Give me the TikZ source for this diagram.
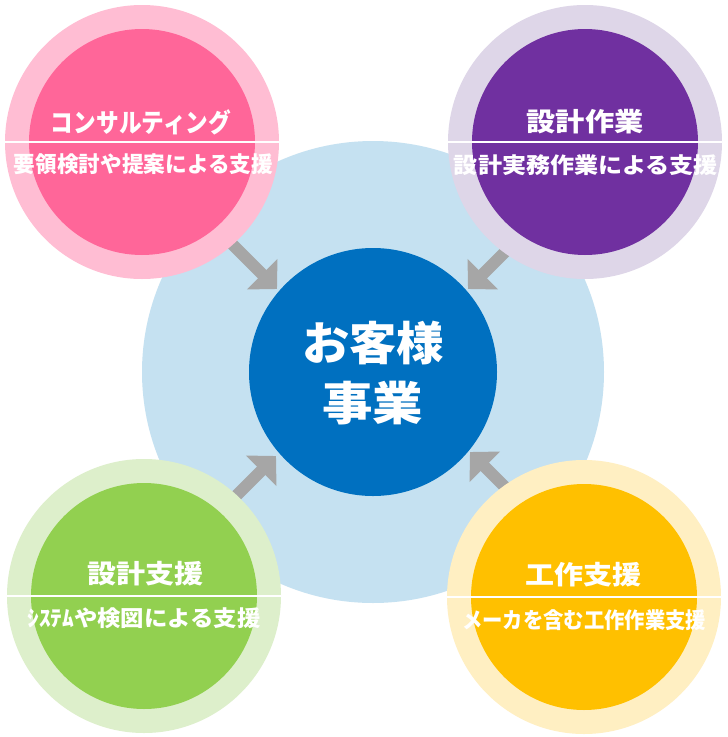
\documentclass[tikz,border=0pt]{standalone}
\usepackage{fontspec}
\setmainfont{Noto Sans CJK JP}
\usetikzlibrary{arrows.meta}
\definecolor{bgblue}{HTML}{C5E1F1}
\definecolor{coreblue}{HTML}{0070C0}
\definecolor{pinkout}{HTML}{FFBDD3}
\definecolor{pinkin}{HTML}{FF6699}
\definecolor{purpout}{HTML}{DED6E8}
\definecolor{purpin}{HTML}{7030A0}
\definecolor{greenout}{HTML}{DDEFCB}
\definecolor{greenin}{HTML}{92D050}
\definecolor{yelout}{HTML}{FFEFC2}
\definecolor{yelin}{HTML}{FFC000}
\definecolor{arrgray}{HTML}{A6A6A6}
\newcommand{\fitto}[2]{\resizebox{#1}{\height}{#2}}
\begin{document}
\begin{tikzpicture}[x=1pt,y=-1pt,
  disc/.style={circle,inner sep=0pt,draw=none},
  outerdisc/.style={disc,minimum size=274pt},
  innerdisc/.style={disc,minimum size=226pt},
  sepline/.style={draw=white,line width=2.2pt},
  txt/.style={inner sep=0pt,text=white,anchor=base},
  ttl/.style={txt,font=\fontsize{26}{30}\selectfont\bfseries},
  sub/.style={txt,font=\fontsize{22}{26}\selectfont\bfseries},
  coretxt/.style={txt,font=\fontsize{46}{52}\selectfont\bfseries},
  blockarrow/.style={draw=arrgray,line width=12pt,-{Triangle[width=42pt,length=21pt]}}]
\useasboundingbox (0,0) rectangle (728,737);
\fill[white] (0,0) rectangle (728,737);
% background disc
\node[disc,fill=bgblue,minimum size=462pt] (bg) at (373,372) {};
% arrows
\coordinate (s1) at (225,237); \coordinate (t1) at (277,289);
\coordinate (s2) at (520,237); \coordinate (t2) at (468,289);
\coordinate (s3) at (226,506); \coordinate (t3) at (276,456);
\coordinate (s4) at (520,502); \coordinate (t4) at (470,452);
\draw[blockarrow] (s1) -- (t1);
\draw[blockarrow] (s2) -- (t2);
\draw[blockarrow] (s3) -- (t3);
\draw[blockarrow] (s4) -- (t4);
% core
\node[disc,fill=coreblue,minimum size=248pt] (core) at (373,372) {};
\node[coretxt] (core1) at (373,360.5) {\fitto{142pt}{お客様}};
\node[coretxt] (core2) at (372.5,420.5) {\fitto{101pt}{事業}};
% top left
\node[outerdisc,fill=pinkout] (tlo) at (142,142) {};
\node[innerdisc,fill=pinkin] (tli) at (142,142) {};
\draw[sepline] (tlo.west) -- (tlo.east);
\node[ttl] (tlt) at (141,132) {\fitto{180pt}{コンサルティング}};
\node[sub] (tls) at (143.5,172.4) {\fitto{259pt}{要領検討や提案による支援}};
% top right
\node[outerdisc,fill=purpout] (tro) at (585,142) {};
\node[innerdisc,fill=purpin] (tri) at (585,142) {};
\draw[sepline] (tro.west) -- (tro.east);
\node[ttl] (trt) at (585,131) {\fitto{117pt}{設計作業}};
\node[sub] (trs) at (586,173.4) {\fitto{264pt}{設計実務作業による支援}};
% bottom left
\node[outerdisc,fill=greenout] (blo) at (144,596) {};
\node[innerdisc,fill=greenin] (bli) at (144,596) {};
\draw[sepline] (blo.west) -- (blo.east);
\node[ttl] (blt) at (145,583) {\fitto{116pt}{設計支援}};
\node[sub] (bls) at (144,626.4) {\fitto{233pt}{ｼｽﾃﾑや検図による支援}};
% bottom right
\node[outerdisc,fill=yelout] (bro) at (584,597) {};
\node[innerdisc,fill=yelin] (bri) at (584,597) {};
\draw[sepline] (bro.west) -- (bro.east);
\node[ttl] (brt) at (583,584) {\fitto{116pt}{工作支援}};
\node[sub] (brs) at (584,628.4) {\fitto{244pt}{メーカを含む工作作業支援}};
\end{tikzpicture}
\end{document}
